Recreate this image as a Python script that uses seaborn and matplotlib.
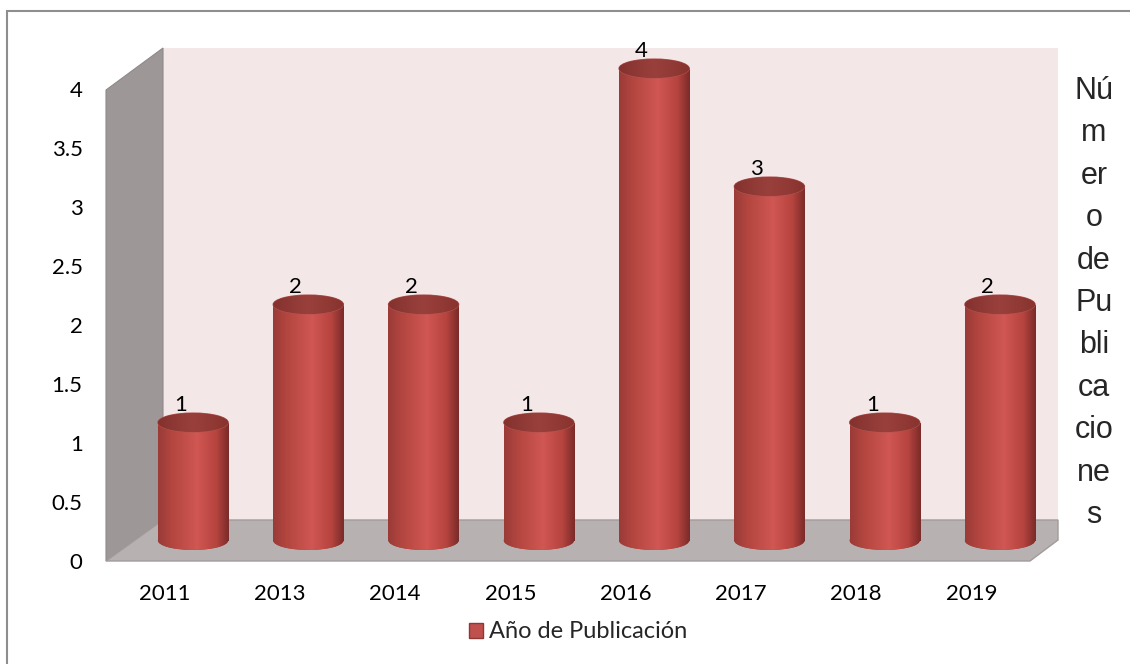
#Publicaciones por año - grafico de cilindros estilo Excel 3D

import numpy as np
import pandas as pd
import matplotlib
matplotlib.use("Agg")
import matplotlib.pyplot as plt
import matplotlib.transforms as mtransforms
from matplotlib.patches import Polygon, Rectangle, Ellipse, Patch
from matplotlib.colors import LinearSegmentedColormap
import seaborn as sns

# ==========================================================
# 1. Data
# ==========================================================
years = ["2011", "2013", "2014", "2015", "2016", "2017", "2018", "2019"]
publicaciones = [1, 2, 2, 1, 4, 3, 1, 2]
ytick_values = [0, 0.5, 1, 1.5, 2, 2.5, 3, 3.5, 4]
ytick_labels = ["0", "0.5", "1", "1.5", "2", "2.5", "3", "3.5", "4"]
serie = "Año de Publicación"
titulo_partes = ["Nú", "m", "er", "o", "de", "Pu", "bli", "ca", "cio", "ne", "s"]

df = pd.DataFrame({"anio": years, "n": publicaciones})

W, H = 1130, 664


def fxy(x, y):
    # pixel (from top-left) -> figure fraction
    return (x / W, 1 - y / H)


sns.set_style("white")
plt.rcParams["font.family"] = ["Lato", "DejaVu Sans"]

fig = plt.figure(figsize=(11.3, 6.64), dpi=100)

# ==========================================================
# 2. 3D box (walls + floor), drawn behind the axes
# ==========================================================
back_wall = Polygon([fxy(163, 48), fxy(1058, 48), fxy(1058, 520), fxy(163, 520)],
                    closed=True, transform=fig.transFigure,
                    facecolor="#F3E7E7", edgecolor="none", zorder=-2)
left_wall = Polygon([fxy(106, 90), fxy(163, 48), fxy(163, 520), fxy(106, 561)],
                    closed=True, transform=fig.transFigure,
                    facecolor="#9D9797", edgecolor="#8F8989", lw=0.8, zorder=-1)
floor = Polygon([fxy(106, 561), fxy(1030, 561), fxy(1058, 540), fxy(1058, 520), fxy(163, 520)],
                closed=True, transform=fig.transFigure,
                facecolor="#B8B1B1", edgecolor="#A19B9B", lw=1.0, zorder=-1)
for p in (back_wall, left_wall, floor):
    fig.add_artist(p)

border = Rectangle((7 / W, -0.1), 1.2, (1 - 11 / H) + 0.1, transform=fig.transFigure,
                   fill=False, edgecolor="#8E8E8E", lw=1.5, zorder=5)
fig.add_artist(border)

# ==========================================================
# 3. Bars on the mid-depth plane
# ==========================================================
ax_left, ax_right = 135.4, 1057.6
y0_px, unit_px = 540.5, 118.0
ymin, ymax = -0.25, 4.15
bottom_px = y0_px - ymin * unit_px
top_px = y0_px - ymax * unit_px
ax = fig.add_axes([ax_left / W, 1 - bottom_px / H,
                   (ax_right - ax_left) / W, (bottom_px - top_px) / H])
ax.set_facecolor("none")

sns.barplot(data=df, x="anio", y="n", color="#C0504D", width=0.61,
            saturation=1, ax=ax, zorder=2)

body_cmap = LinearSegmentedColormap.from_list(
    "body", [(0, "#9A3B38"), (0.2, "#B4463F"), (0.55, "#D05753"),
             (0.82, "#B7443F"), (1, "#7A2B29")])
top_cmap = LinearSegmentedColormap.from_list(
    "top", [(0, "#84322F"), (0.5, "#9A403C"), (1, "#88332F")])
grad = np.linspace(0, 1, 256).reshape(1, -1)
ell_h = 19 / unit_px

bars = list(ax.patches)
for bar in bars:
    x0, w, h = bar.get_x(), bar.get_width(), bar.get_height()
    cx = x0 + w / 2
    bar.set_edgecolor("none")
    base = Ellipse((cx, 0), w, ell_h, facecolor="#A8433F", edgecolor="none", zorder=2)
    ax.add_patch(base)
    for clip in (bar, base):
        im = ax.imshow(grad, cmap=body_cmap, extent=[x0, x0 + w, -ell_h, h],
                       aspect="auto", zorder=2.5)
        im.set_clip_path(clip)
    top = Ellipse((cx, h), w, ell_h, facecolor="#92403C", edgecolor="#B25450",
                  lw=0.8, zorder=3)
    ax.add_patch(top)
    im = ax.imshow(grad, cmap=top_cmap, extent=[x0, x0 + w, h - ell_h / 2, h + ell_h / 2],
                   aspect="auto", zorder=3.5)
    im.set_clip_path(top)
    ax.annotate(f"{h:g}", xy=(cx, h), xytext=(-9, 12.5), textcoords="offset points",
                ha="center", va="center", fontsize=16, color="black")

ax.set_xlim(-0.5, 7.5)
ax.set_ylim(ymin, ymax)
ax.set_xlabel("")
ax.set_ylabel("")
ax.set_yticks(ytick_values, ytick_labels)
sns.despine(ax=ax, left=True, bottom=True)
ax.tick_params(axis="both", length=0, labelsize=16, colors="black")
ax.tick_params(axis="x", pad=10)
ax.tick_params(axis="y", pad=38)

# tick labels sit on the front plane of the box
x_shift = mtransforms.ScaledTranslation(-0.284, 0, fig.dpi_scale_trans)
y_shift = mtransforms.ScaledTranslation(0, -0.205, fig.dpi_scale_trans)
for lbl in ax.get_xticklabels():
    lbl.set_transform(lbl.get_transform() + x_shift)
for lbl in ax.get_yticklabels():
    lbl.set_transform(lbl.get_transform() + y_shift)

# ==========================================================
# 4. Legend and side title
# ==========================================================
fig.legend(handles=[Patch(facecolor="#C0504D", edgecolor="#8C3836")], labels=[serie],
           loc="center", bbox_to_anchor=fxy(578, 632), frameon=False, fontsize=17,
           handlelength=0.6, handleheight=0.6, handletextpad=0.25)

fig.text(*fxy(1094, 303), "\n".join(titulo_partes), ha="center", va="center",
         multialignment="center", fontsize=22, linespacing=1.54,
         family=["Liberation Sans", "DejaVu Sans"])

fig.savefig("out.png", dpi=100)
